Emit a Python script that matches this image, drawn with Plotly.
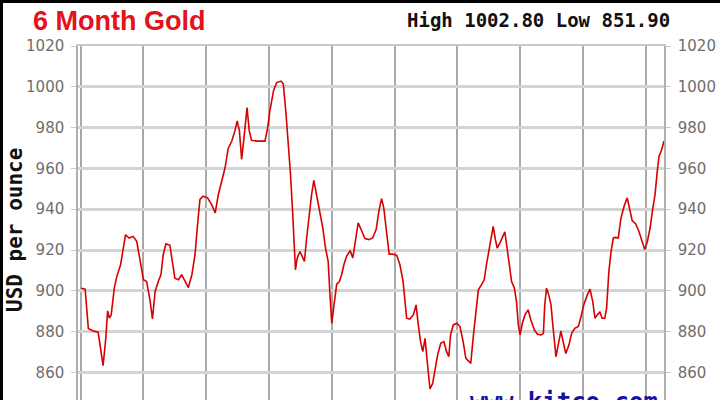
import plotly.graph_objects as go

# Trading-day index (gridline every 14 days) and close price
days = [
    0.1, 1.0, 1.7, 2.8, 3.9, 4.5, 5.0, 5.6, 6.0, 6.4,
    6.8, 7.5, 8.0, 8.9, 9.5, 10.0, 10.8, 11.7, 12.5, 13.2,
    14.0, 14.7, 15.5, 16.0, 16.6, 17.3, 17.9, 18.4, 19.0, 19.9,
    20.5, 21.0, 21.8, 22.5, 23.3, 24.0, 24.8, 25.5, 26.0, 26.6,
    27.3, 28.3, 29.2, 30.0, 30.7, 31.4, 32.2, 32.9, 33.7, 34.4,
    34.9, 35.4, 35.9, 36.5, 37.1, 37.6, 38.1, 39.3, 40.4, 41.1,
    41.7, 42.2, 43.0, 43.7, 44.7, 45.2, 45.8, 46.3, 46.8, 47.3,
    47.6, 47.9, 48.3, 48.9, 49.4, 49.9, 50.4, 51.0, 51.5, 52.0,
    52.6, 53.2, 54.0, 54.6, 55.2, 55.6, 56.0, 56.5, 57.1, 57.7,
    58.2, 58.7, 59.3, 60.1, 60.7, 61.2, 61.9, 62.7, 63.4, 64.3,
    65.1, 65.9, 66.5, 67.1, 67.6, 68.2, 68.8, 69.6, 70.5, 71.2,
    71.9, 72.7, 73.4, 74.2, 74.8, 75.3, 75.8, 76.3, 76.8, 77.3,
    77.9, 78.5, 79.0, 79.6, 80.3, 81.0, 81.6, 82.1, 82.5, 83.1,
    83.9, 84.6, 85.3, 85.9, 86.7, 87.0, 87.6, 88.2, 88.7, 89.4,
    90.0, 90.5, 91.1, 91.5, 92.0, 92.5, 92.9, 93.5, 94.0, 94.6,
    95.1, 95.6, 96.1, 96.7, 97.2, 97.6, 98.0, 98.5, 99.1, 99.8,
    100.4, 101.2, 101.9, 102.7, 103.2, 103.5, 103.9, 104.4, 104.9, 105.3,
    105.6, 106.0, 106.5, 107.1, 107.6, 108.2, 108.9, 109.5, 110.2, 111.0,
    111.6, 112.2, 113.0, 113.6, 114.2, 114.7, 115.2, 115.8, 116.3, 116.9,
    117.3, 117.8, 118.3, 118.8, 119.3, 119.9, 120.5, 121.2, 121.9, 122.5,
    123.0, 123.8, 124.5, 125.2, 125.8, 126.4, 127.0, 127.5, 128.1, 128.6,
    129.0, 129.6, 130.1,
]
prices = [
    901.3, 900.8, 881.6, 880.3, 879.7, 871.8, 863.3, 876.7, 890.2, 886.6,
    888.2, 901.3, 906.6, 912.8, 921.0, 927.5, 925.9, 926.7, 924.3, 914.4,
    905.4, 904.6, 894.8, 886.2, 899.7, 904.6, 907.9, 917.7, 923.0, 922.3,
    914.4, 906.2, 905.4, 907.9, 904.6, 901.6, 907.9, 917.7, 930.8, 944.8,
    946.4, 945.6, 942.3, 938.2, 947.2, 953.0, 960.3, 969.8, 973.4, 978.4,
    983.3, 978.4, 964.4, 976.7, 989.8, 978.4, 973.8, 973.4, 973.4, 973.4,
    980.0, 988.2, 998.0, 1002.1, 1002.8, 1001.3, 986.6, 973.4, 957.0, 937.4,
    919.3, 910.3, 916.1, 919.3, 916.9, 914.4, 925.9, 939.0, 947.2, 954.1,
    947.2, 940.7, 930.8, 921.0, 914.4, 898.0, 884.1, 893.1, 903.3, 904.6,
    907.9, 912.8, 916.9, 919.7, 916.1, 923.4, 933.3, 929.2, 925.6, 925.1,
    925.9, 930.0, 939.0, 945.2, 940.7, 929.2, 918.0, 918.0, 917.4, 912.8,
    904.6, 886.6, 886.2, 888.2, 893.1, 883.3, 875.1, 870.2, 876.7, 865.2,
    851.9, 854.6, 860.3, 868.5, 874.3, 875.1, 870.2, 867.7, 878.4, 883.3,
    884.1, 882.5, 875.1, 866.9, 865.2, 864.4, 878.4, 889.8, 900.5, 903.0,
    905.4, 912.8, 921.0, 925.1, 931.6, 925.1, 921.0, 923.4, 925.9, 928.9,
    921.0, 912.8, 904.6, 901.6, 894.8, 883.3, 878.4, 884.1, 888.2, 890.7,
    885.7, 880.8, 878.7, 878.4, 879.2, 893.1, 901.3, 898.0, 893.1, 883.3,
    875.1, 867.7, 873.4, 880.3, 875.1, 869.3, 873.4, 879.2, 881.6, 882.5,
    887.4, 893.1, 898.0, 900.8, 894.8, 886.6, 888.2, 889.8, 886.6, 886.6,
    891.5, 909.5, 919.3, 925.9, 926.2, 925.9, 935.7, 941.5, 945.6, 939.0,
    934.4, 932.8, 929.2, 924.3, 920.2, 924.3, 930.8, 939.0, 947.2, 958.7,
    966.0, 969.3, 973.4,
]
assert len(days) == len(prices)

high_low_text = 'High 1002.80 Low 851.90'

tick_font = dict(family='DejaVu Sans', size=15, color='#6e6e6e')

fig = go.Figure()
fig.add_trace(go.Scatter(x=days, y=prices, mode='lines',
                         line=dict(color='#d80000', width=1.6),
                         hoverinfo='skip', showlegend=False))
# same series on the right-hand axis, invisible, just so the axis gets drawn
fig.add_trace(go.Scatter(x=days, y=prices, mode='lines', yaxis='y2',
                         line=dict(width=0), opacity=0,
                         hoverinfo='skip', showlegend=False))

yax = dict(range=[846.5, 1020], tick0=0, dtick=20,
           showgrid=True, gridcolor='#d4d4d4', gridwidth=3,
           ticks='outside', ticklen=5, tickcolor='#cccccc',
           ticklabelstandoff=4, tickfont=tick_font, automargin=False,
           showline=True, linecolor='#b0b0b0', linewidth=1.5, zeroline=False)

fig.update_layout(
    width=720, height=400,
    margin=dict(l=78, r=56, t=46, b=0),
    paper_bgcolor='white', plot_bgcolor='white',
    title=dict(text='<b>6 Month Gold</b>', x=33 / 720, xanchor='left',
               y=1 - 21 / 400, yanchor='middle',
               font=dict(family='Liberation Sans', size=27, color='#e3121b')),
    xaxis=dict(range=[-0.6, 130.1], tick0=0, dtick=14,
               showgrid=True, gridcolor='#a9a9a9', gridwidth=1.5,
               showticklabels=False, showline=True, mirror=True, automargin=False,
               linecolor='#c8c8c8', linewidth=2, zeroline=False),
    yaxis=yax,
    yaxis2=dict(yax, overlaying='y', side='right', showgrid=False, anchor='x'),
)

fig.add_annotation(text='<b>' + high_low_text + '</b>', xref='paper', yref='paper',
                   x=(672 - 78) / 586, y=(400 - 20) / 354, xanchor='right', yanchor='middle',
                   showarrow=False,
                   font=dict(family='DejaVu Sans Mono', size=19, color='#111111'))
fig.add_annotation(text='<b>USD per ounce</b>', xref='paper', yref='paper',
                   x=(15 - 78) / 586, y=(400 - 230) / 354, textangle=-90,
                   xanchor='center', yanchor='middle', showarrow=False,
                   font=dict(family='DejaVu Sans Mono', size=21, color='#111111'))
# watermark, mostly below the visible frame
fig.add_annotation(text='<b>www.kitco.com</b>', xref='paper', yref='paper',
                   x=(468 - 78) / 586, y=0.04, xanchor='left', yanchor='top',
                   showarrow=False,
                   font=dict(family='DejaVu Sans Mono', size=24, color='#1414a0'))
# dark frame on top and left edges
fig.add_shape(type='rect', xref='paper', yref='paper',
              x0=(1.5 - 78) / 586, x1=1.3, y0=-0.2, y1=(400 - 1.5) / 354,
              line=dict(color='black', width=3))

# drop the browser's default page margin so the figure sits at the corner
fig.write_html('out.html', config={'displayModeBar': False},
               post_script="document.body.style.margin='0';")
